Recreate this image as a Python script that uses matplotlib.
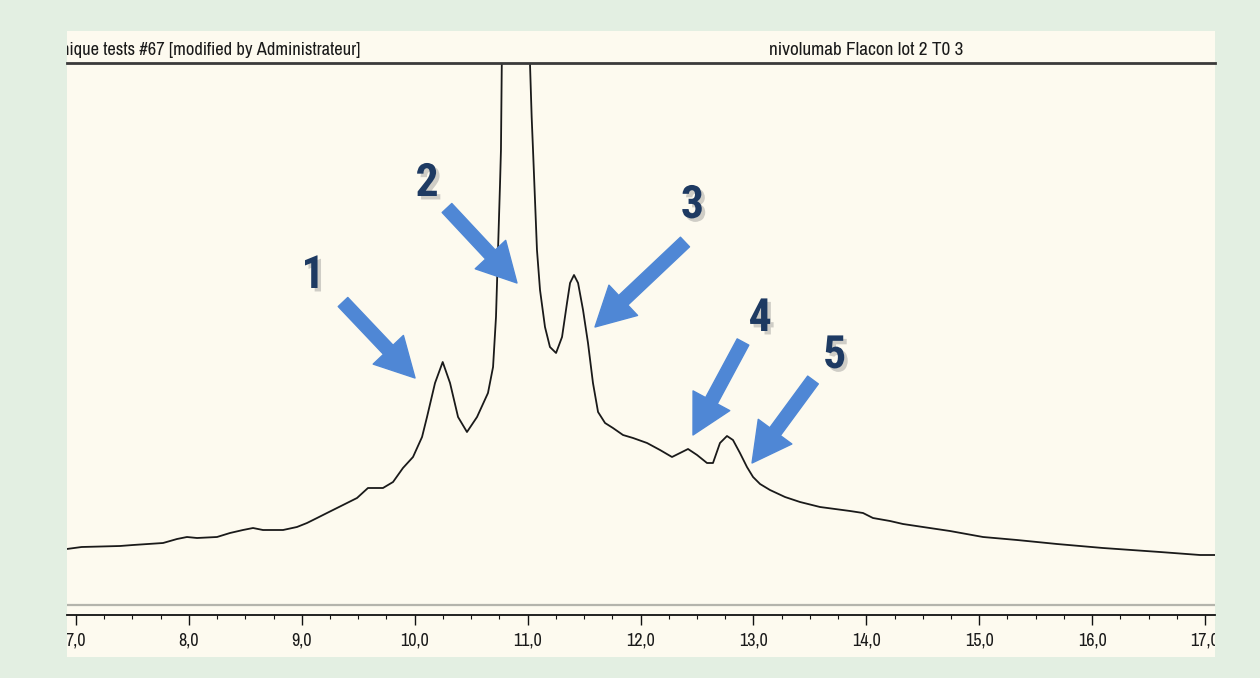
import matplotlib
matplotlib.use("Agg")
import matplotlib.pyplot as plt
import matplotlib.patheffects as pe
from matplotlib.patches import Rectangle
from matplotlib.transforms import Bbox, TransformedBbox
import numpy as np

# chromatogram trace: retention time (min), signal (a.u.)
rt = [6.918, 7.050, 7.390, 7.505, 7.771, 7.895, 7.983, 8.072, 8.249, 8.364,
      8.479, 8.568, 8.656, 8.834, 8.957, 9.046, 9.135, 9.223, 9.365, 9.489,
      9.586, 9.719, 9.808, 9.896, 9.985, 10.065, 10.109, 10.180, 10.248, 10.313,
      10.384, 10.463, 10.552, 10.649, 10.694, 10.720, 10.738, 10.756, 10.764, 10.771,
      10.900, 11.021, 11.036, 11.048, 11.083, 11.110, 11.154, 11.198, 11.252, 11.305,
      11.349, 11.376, 11.411, 11.447, 11.491, 11.535, 11.579, 11.624, 11.686, 11.756,
      11.845, 11.934, 12.058, 12.173, 12.279, 12.368, 12.421, 12.501, 12.589, 12.642,
      12.704, 12.766, 12.819, 12.881, 12.943, 12.997, 13.059, 13.147, 13.280, 13.413,
      13.590, 13.856, 13.971, 14.059, 14.210, 14.325, 14.502, 14.741, 15.034, 15.335,
      15.689, 16.096, 16.601, 16.956, 17.089]
signal = [66, 68, 69, 70, 72, 76, 78, 77, 78, 82,
          85, 87, 85, 85, 88, 92, 97, 102, 110, 117,
          127, 127, 133, 147, 158, 178, 198, 232, 253, 232,
          198, 183, 198, 222, 248, 298, 365, 432, 465, 547,
          1500, 552, 498, 465, 365, 325, 288, 268, 262, 278,
          312, 332, 340, 332, 305, 272, 232, 203, 192, 187,
          180, 177, 172, 165, 158, 163, 166, 160, 152, 152,
          172, 179, 175, 162, 148, 138, 131, 125, 118, 113,
          108, 104, 102, 97, 94, 91, 88, 84, 78, 75,
          71, 67, 63, 60, 60]

# peak callouts: label, label position, arrow tail, arrow tip (rt, signal)
peak_ids = ["1", "2", "3", "4", "5"]
label_pos = [(9.10, 340), (10.11, 432), (12.46, 410), (13.06, 297), (13.72, 260)]
arrow_tail = [(9.365, 313), (10.286, 407), (12.394, 373), (12.908, 273), (13.528, 235)]
arrow_tip = [(10.003, 237), (10.906, 332), (11.597, 288), (12.465, 180), (12.988, 152)]

major_ticks = np.arange(7, 18, 1.0)
minor_ticks = np.arange(7, 17.01, 0.25)
tick_labels = [f"{v:.1f}".replace(".", ",") for v in major_ticks]

left_title = "nique tests #67 [modified by Administrateur]"
right_title = "nivolumab Flacon lot 2 T0 3"

W, H = 1260, 678
GREEN = "#E3EFE2"
CREAM = "#FDFAEF"
BLUE = "#4F87D5"
NAVY = "#1E3A62"
NARROW = ["Archivo Narrow", "DejaVu Sans"]
BOLD_NARROW = ["Roboto Condensed", "DejaVu Sans"]

fig = plt.figure(figsize=(W / 100, H / 100), dpi=100, facecolor=GREEN)

# cream panel behind the chart
px0, px1, py0, py1 = 66.7, 1215, 31, 657
panel = Bbox.from_extents(px0 / W, 1 - py1 / H, px1 / W, 1 - py0 / H)
fig.patches.append(Rectangle((panel.x0, panel.y0), panel.width, panel.height,
                             transform=fig.transFigure, facecolor=CREAM,
                             edgecolor="none", zorder=-5))
clip = TransformedBbox(panel, fig.transFigure)

ax_top, ax_bot = 63, 615
ax = fig.add_axes([px0 / W, 1 - ax_bot / H, (px1 - px0) / W, (ax_bot - ax_top) / H])
ax.set_facecolor("none")
ax.plot(rt, signal, color="#1a1a1a", lw=1.3)

for s in ("left", "right"):
    ax.spines[s].set_visible(False)
ax.spines["top"].set_color("#3a3a3a")
ax.spines["top"].set_linewidth(2.0)
ax.spines["bottom"].set_color("#111111")
ax.spines["bottom"].set_linewidth(1.3)
ax.axhline(10, color="#b4b4ac", lw=1.6)

ax.set_yticks([])
ax.set_xticks(major_ticks, tick_labels)
ax.set_xticks(minor_ticks, minor=True)
ax.set_xlim(7 + (px0 - 76) / 112.9, 7 + (px1 - 76) / 112.9)
ax.set_ylim(0, ax_bot - ax_top)
ax.tick_params(axis="x", which="major", direction="out", length=7.5, width=1,
               color="#111111", pad=5, labelsize=13, labelcolor="#1a1a1a")
ax.tick_params(axis="x", which="minor", direction="out", length=3, width=0.8,
               color="#111111")
for lbl in ax.get_xticklabels():
    lbl.set_fontfamily(NARROW)
    lbl.set_clip_on(True)
    lbl.set_clip_box(clip)

# header texts
t1 = fig.text(61 / W, 1 - 50 / H, left_title, ha="left", va="center",
              fontsize=13.3, family=NARROW, color="#1a1a1a", clip_on=True)
t1.set_clip_box(clip)
fig.text(866 / W, 1 - 50 / H, right_title, ha="center", va="center",
         fontsize=13.8, family=NARROW, color="#1a1a1a")

# arrows and peak numbers
shadow = [pe.withSimplePatchShadow(offset=(2.5, -2.5), shadow_rgbFace="#7a7a7a", alpha=0.35)]
for pid, lp, tail, tip in zip(peak_ids, label_pos, arrow_tail, arrow_tip):
    ax.annotate("", xy=tip, xytext=tail,
                arrowprops=dict(arrowstyle="simple,head_length=2.8,head_width=3.0,tail_width=0.95",
                                mutation_scale=10, color=BLUE, shrinkA=0, shrinkB=0))
    ax.text(lp[0], lp[1], pid, ha="center", va="center", fontsize=33,
            fontweight="bold", family=BOLD_NARROW, color=NAVY, path_effects=shadow)

fig.savefig("out.png", dpi=100, facecolor=GREEN)
